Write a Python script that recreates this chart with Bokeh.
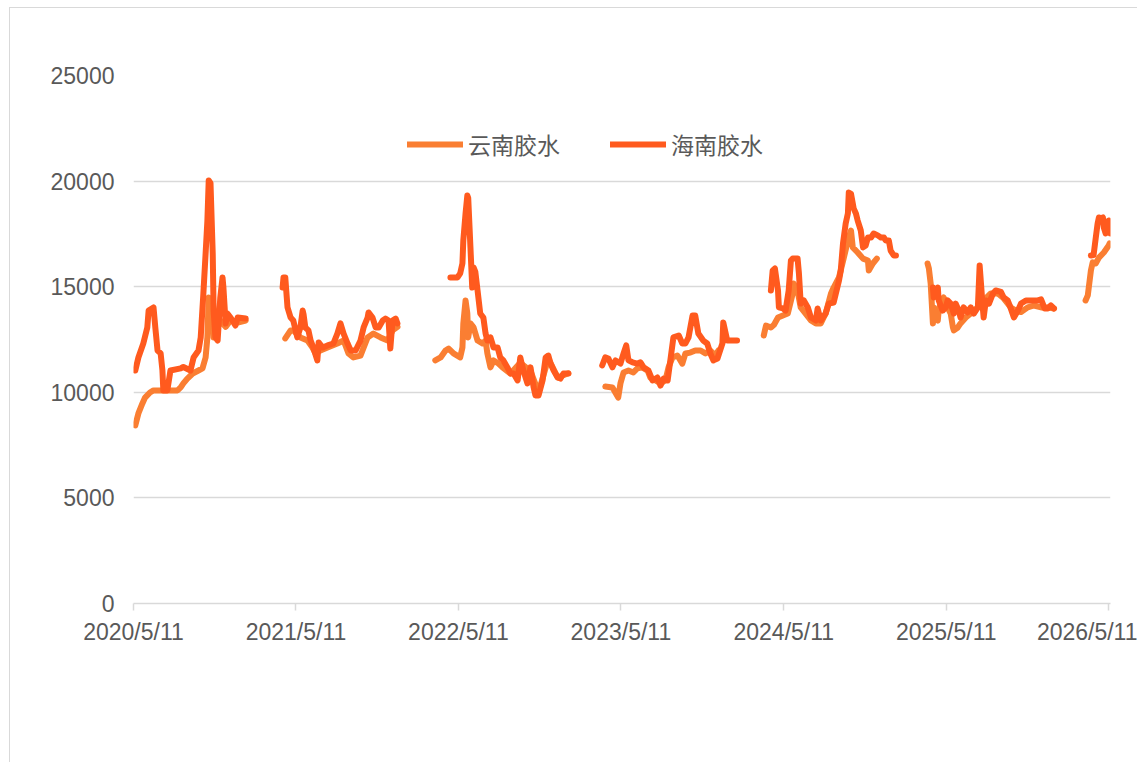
import numpy as np
import pandas as pd
from bokeh.plotting import figure
from bokeh.models import Range1d, FixedTicker, Legend, LegendItem
from bokeh.embed import file_html
from bokeh.resources import INLINE

# ---------------- data ----------------
yunnan_dates = [
    "2020-05-15", "2020-05-22", "2020-05-31", "2020-06-06", "2020-06-17", "2020-06-25", "2020-07-17",
    "2020-08-18", "2020-08-25", "2020-08-31", "2020-09-09", "2020-09-21", "2020-10-04", "2020-10-13",
    "2020-10-20", "2020-10-24", "2020-10-27", "2020-10-29", "2020-11-05", "2020-11-07", "2020-11-16",
    "2020-11-22", "2020-12-04", "2020-12-15", "2020-12-31", "2021-01-18",
    "2021-04-17", "2021-04-29", "2021-05-05", "2021-05-21", "2021-06-06", "2021-06-17", "2021-06-24",
    "2021-07-05", "2021-07-21", "2021-08-12", "2021-08-26", "2021-09-06", "2021-09-17", "2021-10-03",
    "2021-10-19", "2021-11-01", "2021-11-17", "2021-12-03", "2021-12-14", "2021-12-25",
    "2022-03-20", "2022-04-01", "2022-04-12", "2022-04-19", "2022-04-30", "2022-05-15", "2022-05-20",
    "2022-05-22", "2022-05-27", "2022-05-31", "2022-06-02", "2022-06-07", "2022-06-14", "2022-06-23",
    "2022-07-04", "2022-07-11", "2022-07-15", "2022-07-22", "2022-07-29", "2022-08-09", "2022-08-18",
    "2022-09-05", "2022-09-27", "2022-10-20", "2022-11-07", "2022-11-29", "2022-12-20", "2023-01-13",
    "2023-04-06", "2023-04-22", "2023-05-05", "2023-05-10", "2023-05-17", "2023-05-28", "2023-06-08",
    "2023-06-17", "2023-06-28", "2023-07-10", "2023-07-16", "2023-07-28", "2023-08-08", "2023-08-19",
    "2023-08-26", "2023-09-04", "2023-09-15", "2023-09-26", "2023-10-03", "2023-10-14", "2023-10-25",
    "2023-11-06", "2023-11-17", "2023-11-28", "2023-12-09", "2023-12-16",
    "2024-03-27", "2024-04-01", "2024-04-12", "2024-04-19", "2024-04-28", "2024-05-09", "2024-05-20",
    "2024-05-31", "2024-06-02", "2024-06-11", "2024-06-18", "2024-06-29", "2024-07-11", "2024-07-22",
    "2024-08-02", "2024-08-13", "2024-08-25", "2024-08-31", "2024-09-12", "2024-09-23", "2024-10-02",
    "2024-10-09", "2024-10-13", "2024-10-24", "2024-11-05", "2024-11-16", "2024-11-18", "2024-11-27",
    "2024-12-06",
    "2025-03-30", "2025-04-02", "2025-04-06", "2025-04-11", "2025-04-13", "2025-04-17", "2025-04-22",
    "2025-04-24", "2025-04-29", "2025-05-05", "2025-05-14", "2025-05-21", "2025-05-26", "2025-05-28",
    "2025-06-06", "2025-06-12", "2025-06-24", "2025-07-05", "2025-07-21", "2025-08-03", "2025-08-19",
    "2025-09-04", "2025-09-17", "2025-10-03", "2025-10-14", "2025-10-26", "2025-11-10", "2025-11-24",
    "2025-12-10", "2025-12-25", "2026-01-08",
    "2026-03-20", "2026-03-25", "2026-04-01", "2026-04-05", "2026-04-12", "2026-04-19", "2026-04-30",
    "2026-05-11", "2026-05-13",
]
yunnan_values = [
    8430, 9000, 9470, 9750, 9990, 10090, 10090,
    10090, 10230, 10420, 10650, 10890, 11030, 11130,
    11650, 12600, 14490, 14200, 13870, 12600, 13070,
    13400, 13100, 13400, 13300, 13400,
    12550, 12930, 12930, 12600, 12450, 12120, 11840,
    11980, 12120, 12310, 12450, 11840, 11650, 11740,
    12600, 12780, 12600, 12450, 12930, 13100,
    11510, 11650, 11980, 12070, 11840, 11650, 12120,
    13260, 14350, 13730, 12600, 13260, 13070, 12450,
    12310, 12450, 11840, 11180, 11510, 11360, 11180,
    10890, 11400, 11000, 10000, 11600, 10700, 10900,
    10270, 10230, 9750, 10420, 10940, 11030, 10940,
    11130, 11180, 11030, 10700, 10560, 10420, 10560,
    11180, 11650, 11740, 11360, 11840, 11880, 11980,
    11980, 11840, 11980, 11740, 11980,
    12690, 13160, 13070, 13200, 13540, 13640, 13730,
    14680, 15150, 14800, 14020, 13730, 13400, 13260,
    13260, 13730, 14680, 14960, 15440, 16380, 17190,
    17660, 16860, 16620, 16330, 16240, 15770, 16100,
    16330,
    16100, 15860, 15150, 13260, 14020, 13540, 13400,
    13870, 14350, 14490, 14020, 13730, 13070, 12930,
    13070, 13260, 13540, 13730, 14020, 14350, 14680,
    14680, 14450, 14020, 13870, 13800, 14020, 14110,
    14020, 14020, 13970,
    14350, 14590, 15770, 16150, 16100, 16380, 16620,
    16950, 17050,
]

hainan_dates = [
    "2020-05-15", "2020-05-22", "2020-06-02", "2020-06-11", "2020-06-14", "2020-06-25", "2020-06-29",
    "2020-07-04", "2020-07-11", "2020-07-15", "2020-07-17", "2020-07-26", "2020-08-02", "2020-08-25",
    "2020-08-31", "2020-09-16", "2020-09-23", "2020-10-04", "2020-10-09", "2020-10-15", "2020-10-20",
    "2020-10-24", "2020-10-27", "2020-10-31", "2020-11-05", "2020-11-07", "2020-11-11", "2020-11-16",
    "2020-11-22", "2020-11-27", "2020-11-29", "2020-12-04", "2020-12-08", "2020-12-15", "2020-12-26",
    "2020-12-31", "2021-01-18",
    "2021-04-11", "2021-04-13", "2021-04-17", "2021-04-22", "2021-04-29", "2021-05-05", "2021-05-14",
    "2021-05-21", "2021-05-26", "2021-05-28", "2021-06-01", "2021-06-08", "2021-06-13", "2021-06-19",
    "2021-06-28", "2021-07-01", "2021-07-10", "2021-07-21", "2021-08-03", "2021-08-12", "2021-08-19",
    "2021-08-26", "2021-09-04", "2021-09-11", "2021-09-22", "2021-10-03", "2021-10-10", "2021-10-19",
    "2021-10-21", "2021-10-30", "2021-11-06", "2021-11-13", "2021-11-22", "2021-11-28", "2021-12-05",
    "2021-12-09", "2021-12-14", "2021-12-21", "2021-12-25",
    "2022-04-23", "2022-05-09", "2022-05-15", "2022-05-20", "2022-05-22", "2022-05-27", "2022-05-31",
    "2022-06-02", "2022-06-07", "2022-06-11", "2022-06-14", "2022-06-18", "2022-06-23", "2022-06-29",
    "2022-07-06", "2022-07-11", "2022-07-15", "2022-07-22", "2022-07-29", "2022-08-07", "2022-08-13",
    "2022-08-20", "2022-08-29", "2022-09-05", "2022-09-12", "2022-09-21", "2022-09-27", "2022-10-02",
    "2022-10-04", "2022-10-13", "2022-10-20", "2022-10-27", "2022-10-31", "2022-11-07", "2022-11-16",
    "2022-11-23", "2022-11-29", "2022-12-04", "2022-12-11", "2022-12-20", "2022-12-26", "2023-01-02",
    "2023-01-13",
    "2023-03-30", "2023-04-06", "2023-04-13", "2023-04-22", "2023-04-29", "2023-05-10", "2023-05-17",
    "2023-05-23", "2023-05-28", "2023-06-06", "2023-06-17", "2023-06-24", "2023-07-01", "2023-07-12",
    "2023-07-21", "2023-08-01", "2023-08-08", "2023-08-15", "2023-08-24", "2023-08-31", "2023-09-06",
    "2023-09-18", "2023-09-26", "2023-10-03", "2023-10-10", "2023-10-19", "2023-10-25", "2023-11-01",
    "2023-11-12", "2023-11-21", "2023-11-28", "2023-12-05", "2023-12-14", "2023-12-25", "2023-12-27",
    "2024-01-05", "2024-01-16", "2024-01-27",
    "2024-04-12", "2024-04-16", "2024-04-21", "2024-04-28", "2024-04-30", "2024-05-09", "2024-05-15",
    "2024-05-22", "2024-05-27", "2024-05-31", "2024-06-11", "2024-06-14", "2024-06-18", "2024-06-25",
    "2024-07-04", "2024-07-11", "2024-07-22", "2024-07-26", "2024-08-02", "2024-08-13", "2024-08-20",
    "2024-08-31", "2024-09-12", "2024-09-16", "2024-09-21", "2024-09-27", "2024-10-02", "2024-10-04",
    "2024-10-09", "2024-10-13", "2024-10-15", "2024-10-20", "2024-10-24", "2024-10-31", "2024-11-05",
    "2024-11-11", "2024-11-16", "2024-11-23", "2024-11-29", "2024-12-08", "2024-12-15", "2024-12-22",
    "2024-12-26", "2025-01-02", "2025-01-06", "2025-01-13", "2025-01-18",
    "2025-04-11", "2025-04-13", "2025-04-22", "2025-04-24", "2025-05-03", "2025-05-10", "2025-05-14",
    "2025-05-21", "2025-05-28", "2025-06-01", "2025-06-08", "2025-06-12", "2025-06-19", "2025-06-28",
    "2025-07-05", "2025-07-12", "2025-07-21", "2025-07-25", "2025-08-01", "2025-08-03", "2025-08-08",
    "2025-08-15", "2025-08-24", "2025-08-30", "2025-09-11", "2025-09-17", "2025-09-26", "2025-10-03",
    "2025-10-10", "2025-10-19", "2025-10-26", "2025-11-06", "2025-11-22", "2025-12-03", "2025-12-10",
    "2025-12-18", "2025-12-25", "2026-01-01", "2026-01-08",
    "2026-04-01", "2026-04-07", "2026-04-12", "2026-04-16", "2026-04-19", "2026-04-23", "2026-04-28",
    "2026-04-30", "2026-05-04", "2026-05-09", "2026-05-11", "2026-05-15",
]
hainan_values = [
    11030, 11650, 12310, 13070, 13870, 14020, 13070,
    11980, 11840, 11030, 10090, 10090, 11030, 11130,
    11200, 11030, 11650, 11980, 12600, 14680, 16570,
    18130, 20030, 19900, 16570, 13870, 12600, 12450,
    14490, 15440, 14960, 13260, 13730, 13540, 13160,
    13540, 13490,
    14960, 15440, 15440, 14020, 13540, 13400, 12600,
    13070, 13870, 13700, 13070, 12930, 12450, 12120,
    11510, 12360, 12120, 12220, 12310, 12780, 13260,
    12780, 12310, 11980, 11980, 12450, 13070, 13540,
    13780, 13540, 13070, 13070, 13400, 13490, 13400,
    12070, 13400, 13490, 13260,
    15440, 15440, 15630, 16100, 17190, 18470, 19320,
    19200, 16860, 14960, 15910, 15700, 14820, 13730,
    13540, 12780, 12450, 12600, 12120, 12120, 11650,
    11510, 11180, 10890, 10890, 10560, 11650, 11180,
    11030, 10420, 11180, 10230, 9850, 9850, 10560,
    11650, 11740, 11360, 11030, 10700, 10650, 10890,
    10890,
    11270, 11650, 11600, 11180, 11510, 11360, 11840,
    12220, 11510, 11420, 11360, 11420, 11180, 11030,
    10560, 10700, 10320, 10650, 10560, 11650, 12600,
    12690, 12310, 12310, 12600, 13640, 13640, 12780,
    12450, 12310, 11840, 11510, 11600, 12310, 13310,
    12450, 12450, 12450,
    14820, 15770, 15860, 14820, 14020, 13970, 13870,
    14820, 16240, 16330, 16330, 15630, 14200, 14350,
    14020, 13540, 13400, 13970, 13400, 13730, 14200,
    14250, 15290, 15770, 17050, 17990, 18470, 19460,
    19400, 18940, 18700, 18470, 18130, 17660, 16860,
    16950, 17330, 17330, 17520, 17430, 17330, 17330,
    17190, 17190, 16710, 16480, 16480,
    14960, 14490, 14960, 14350, 13870, 14020, 14350,
    14200, 13730, 14200, 13870, 13540, 14020, 13780,
    14020, 13730, 14020, 16000, 14020, 13540, 14350,
    14200, 14680, 14820, 14750, 14490, 14350, 13970,
    13540, 13870, 14200, 14350, 14350, 14350, 14400,
    13970, 13970, 14110, 13970,
    16480, 16500, 17330, 17990, 18280, 18230, 18280,
    17800, 17520, 17800, 18130, 17520,
]

tick_dates = ["2020-05-11", "2021-05-11", "2022-05-11", "2023-05-11",
              "2024-05-11", "2025-05-11", "2026-05-11"]
tick_labels = ["2020/5/11", "2021/5/11", "2022/5/11", "2023/5/11",
               "2024/5/11", "2025/5/11", "2026/5/11"]
y_ticks = [0, 5000, 10000, 15000, 20000, 25000]
series_names = ["云南胶水", "海南胶水"]

# ---------------- helpers ----------------
def with_gaps(dates, vals, max_gap_days=45):
    d = pd.to_datetime(dates)
    xs, ys = [], []
    for i in range(len(d)):
        if i > 0 and (d[i] - d[i - 1]).days > max_gap_days:
            xs.append(d[i - 1] + (d[i] - d[i - 1]) / 2)
            ys.append(np.nan)
        xs.append(d[i])
        ys.append(float(vals[i]))
    return np.array(xs, dtype="datetime64[ms]"), np.array(ys)


def ms(s):
    return float(pd.Timestamp(s).value // 10**6)


TEXT = "#595959"
GRID = "#D9D9D9"
C_YN = "#FA7E32"
C_HN = "#FF5A1E"

p = figure(
    width=1128, height=755,
    x_axis_type="datetime",
    x_range=Range1d(pd.Timestamp("2020-05-11"), pd.Timestamp("2026-05-15")),
    y_range=Range1d(0, 25000),
    output_backend="svg", toolbar_location=None,
    min_border_left=123, min_border_right=28,
    min_border_top=67, min_border_bottom=160,
)
p.outline_line_color = None
p.background_fill_color = "white"
p.border_fill_color = "white"
p.styles = {"margin-left": "9px", "margin-top": "7px",
            "border-left": "1px solid #D9D9D9", "border-top": "1px solid #D9D9D9"}

# y axis
p.yaxis.ticker = FixedTicker(ticks=y_ticks)
p.yaxis.axis_line_color = None
p.yaxis.major_tick_line_color = None
p.yaxis.minor_tick_line_color = None
p.yaxis.major_tick_out = 0
p.yaxis.major_tick_in = 0
p.yaxis.major_label_standoff = 19
p.yaxis.major_label_text_font = "Liberation Sans"
p.yaxis.major_label_text_font_size = "23px"
p.yaxis.major_label_text_color = TEXT
p.ygrid.ticker = FixedTicker(ticks=y_ticks)
p.ygrid.grid_line_color = GRID
p.ygrid.grid_line_width = 1.5
p.xgrid.grid_line_color = None

# x axis
x_tick_ms = [ms(t) for t in tick_dates]
p.xaxis.ticker = FixedTicker(ticks=x_tick_ms)
p.xaxis.major_label_overrides = {t: lab for t, lab in zip(x_tick_ms, tick_labels)}
p.xaxis.axis_line_color = GRID
p.xaxis.axis_line_width = 1.5
p.xaxis.major_tick_line_color = GRID
p.xaxis.major_tick_line_width = 1.5
p.xaxis.major_tick_out = 7
p.xaxis.major_tick_in = 0
p.xaxis.minor_tick_line_color = None
p.xaxis.major_label_standoff = 8
p.xaxis.major_label_text_font = "Liberation Sans"
p.xaxis.major_label_text_font_size = "23px"
p.xaxis.major_label_text_color = TEXT

# lines
yx, yy = with_gaps(yunnan_dates, yunnan_values)
hx, hy = with_gaps(hainan_dates, hainan_values)
r_yn = p.line(yx, yy, line_color=C_YN, line_width=6, line_cap="round", line_join="round")
r_hn = p.line(hx, hy, line_color=C_HN, line_width=6, line_cap="round", line_join="round")

legend = Legend(
    items=[LegendItem(label=series_names[0], renderers=[r_yn]),
           LegendItem(label=series_names[1], renderers=[r_hn])],
    orientation="horizontal",
    location=(274, 442),
    glyph_width=56, glyph_height=24,
    label_height=24, label_standoff=5,
    spacing=50, padding=0, margin=0,
    border_line_color=None, background_fill_alpha=0,
    label_text_font="Noto Sans CJK SC",
    label_text_font_size="23px",
    label_text_color=TEXT,
)
p.add_layout(legend)

open("out.html", "w").write(file_html(p, INLINE))
